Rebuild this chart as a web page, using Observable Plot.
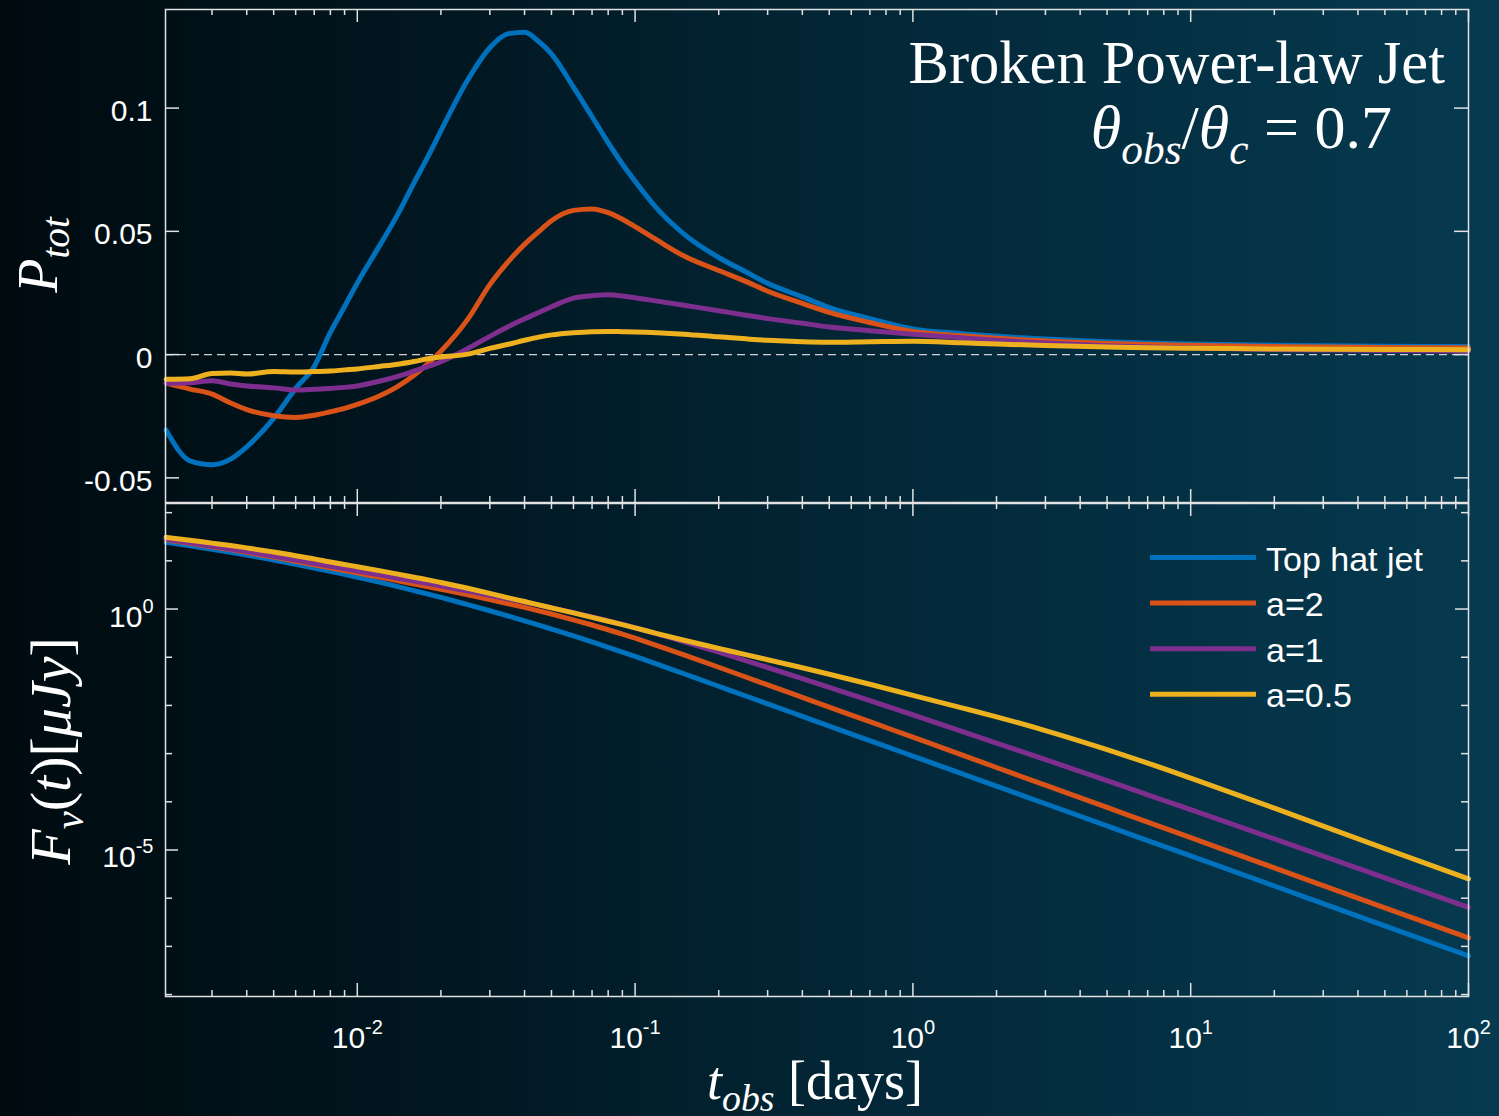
<!DOCTYPE html>
<html><head><meta charset="utf-8">
<script src="https://cdn.jsdelivr.net/npm/d3@7"></script>
<script src="https://cdn.jsdelivr.net/npm/@observablehq/plot@0.6"></script>
<style>
html,body{margin:0;padding:0;}
body{width:1499px;height:1116px;overflow:hidden;background:linear-gradient(90deg,#000b10 0%,#011721 30%,#03293a 62%,#063a50 100%);}
#wrap{position:relative;width:1499px;height:1116px;}
#top,#bot{position:absolute;left:0;}
#top{top:0px}
#bot{top:502px}
svg{overflow:visible}
</style></head><body><div id="wrap"><div id="top"></div><div id="bot"></div></div>
<script>
// ---- data ----
const tDays = [0.00205,0.0025,0.003,0.0035,0.004,0.005,0.006,0.007,0.008,0.009,
  0.01,0.012,0.014,0.016,0.018,0.02,0.025,0.03,0.035,0.04,
  0.045,0.05,0.06,0.07,0.08,0.09,0.1,0.12,0.15,0.2,
  0.25,0.3,0.4,0.5,0.7,1,1.5,2,3,5,
  7,10,20,30,50,100];

const seriesNames = ["Top hat jet","a=2","a=1","a=0.5"];
const seriesColors = ["#0072BD","#D95319","#7E2F8E","#EDB120"];

const pTopHat = [-0.0306,-0.0431,-0.0447,-0.0424,-0.0374,-0.0259,-0.0137,-0.0048,0.0090,0.0195,
  0.0290,0.0440,0.0570,0.0697,0.0805,0.0908,0.1115,0.1245,0.1302,0.1308,
  0.1270,0.1220,0.1085,0.0965,0.0860,0.0773,0.0703,0.0592,0.0489,0.0394,
  0.0336,0.0289,0.0234,0.0191,0.0146,0.0104,0.0085,0.0074,0.0063,0.0052,
  0.0047,0.0043,0.0038,0.0036,0.0034,0.0033];
const pA2 = [-0.0116,-0.0140,-0.0160,-0.0196,-0.0223,-0.0248,-0.0255,-0.0246,-0.0232,-0.0218,
  -0.0202,-0.0168,-0.0129,-0.0084,-0.0036,0.0014,0.0144,0.0284,0.0378,0.0447,
  0.0499,0.0543,0.0585,0.0591,0.0576,0.0549,0.0519,0.0464,0.0400,0.0341,
  0.0297,0.0257,0.0208,0.0171,0.0130,0.0094,0.0076,0.0066,0.0055,0.0045,
  0.0041,0.0038,0.0033,0.0031,0.0029,0.0028];
const pA1 = [-0.0116,-0.0114,-0.0106,-0.0119,-0.0127,-0.0135,-0.0144,-0.0141,-0.0137,-0.0133,
  -0.0127,-0.0108,-0.0088,-0.0067,-0.0048,-0.0029,0.0025,0.0074,0.0114,0.0145,
  0.0171,0.0194,0.0229,0.0239,0.0243,0.0238,0.0231,0.0217,0.0200,0.0178,
  0.0160,0.0146,0.0127,0.0112,0.0097,0.0083,0.0068,0.0058,0.0047,0.0036,
  0.0031,0.0027,0.0021,0.0019,0.0017,0.0015];
const pA05 = [-0.0100,-0.0098,-0.0077,-0.0075,-0.0079,-0.0069,-0.0071,-0.0069,-0.0067,-0.0062,
  -0.0058,-0.0048,-0.0039,-0.0028,-0.0017,-0.0010,0.0002,0.0025,0.0042,0.0058,
  0.0071,0.0080,0.0089,0.0093,0.0094,0.0093,0.0092,0.0089,0.0083,0.0072,
  0.0064,0.0058,0.0052,0.0050,0.0052,0.0054,0.0048,0.0043,0.0037,0.0031,
  0.0028,0.0026,0.0023,0.0022,0.0021,0.0020];

const fTopHat = [24.2,20.5,17.4,15.0,13.2,10.4,8.51,7.13,6.07,5.24,
  4.58,3.61,2.92,2.41,2.04,1.74,1.23,0.923,0.714,0.570,
  0.465,0.385,0.277,0.208,0.161,0.128,0.104,0.0721,0.0454,0.0250,
  0.0157,0.0108,5.94e-3,3.73e-3,1.86e-3,8.89e-4,3.84e-4,2.11e-4,9.12e-5,3.16e-5,
  1.57e-5,7.52e-6,1.79e-6,7.71e-7,2.67e-7,6.35e-8];
const fA2 = [27.3,23.1,19.7,17.1,15.0,12.0,9.82,8.30,7.18,6.31,
  5.62,4.60,3.86,3.32,2.91,2.57,1.97,1.57,1.29,1.08,
  0.918,0.789,0.598,0.466,0.372,0.301,0.248,0.175,0.112,0.0619,
  0.0389,0.0267,0.0147,9.25e-3,4.59e-3,2.19e-3,9.42e-4,5.15e-4,2.21e-4,7.64e-5,
  3.78e-5,1.80e-5,4.26e-6,1.83e-6,6.31e-7,1.50e-7];
const fA1 = [27.9,23.6,20.1,17.6,15.6,12.5,10.4,8.83,7.71,6.84,
  6.15,5.11,4.36,3.79,3.38,3.01,2.36,1.93,1.62,1.40,
  1.21,1.06,0.843,0.685,0.569,0.479,0.407,0.305,0.209,0.127,
  0.0851,0.0612,0.0361,0.0238,0.0126,6.35e-3,2.90e-3,1.66e-3,7.52e-4,2.74e-4,
  1.40e-4,6.85e-5,1.70e-5,7.48e-6,2.64e-6,6.43e-7];
const fA05 = [30.8,26.7,23.3,20.8,18.6,15.3,12.8,11.0,9.46,8.39,
  7.57,6.27,5.30,4.57,4.03,3.56,2.70,2.12,1.71,1.43,
  1.22,1.06,0.832,0.670,0.558,0.474,0.407,0.310,0.225,0.153,
  0.113,0.0889,0.0604,0.0443,0.0275,0.0162,8.91e-3,5.78e-3,3.01e-3,1.21e-3,
  6.38e-4,3.11e-4,7.36e-5,3.13e-5,1.07e-5,2.51e-6];

// ticks
const xMajorTicks = [0.01,0.1,1,10,100];
const xTickLabels = ["10^-2","10^-1","10^0","10^1","10^2"];
const xMinorTicks = [0.003,0.004,0.005,0.006,0.007,0.008,0.009,
  0.02,0.03,0.04,0.05,0.06,0.07,0.08,0.09,
  0.2,0.3,0.4,0.5,0.6,0.7,0.8,0.9,
  2,3,4,5,6,7,8,9,
  20,30,40,50,60,70,80,90];
const pTicks = [-0.05,0,0.05,0.1];
const pTickLabels = ["-0.05","0","0.05","0.1"];
const fMajorTicks = [1e-5,1];
const fTickLabels = ["10^-5","10^0"];
const fMinorTicks = [1e-8,1e-7,1e-6,1e-4,1e-3,1e-2,1e-1,10,100];

const pSeries = [pTopHat,pA2,pA1,pA05];
const fSeries = [fTopHat,fA2,fA1,fA05];

// ---- layout ----
const W = 1499, ML = 165, MR = 31, FW = W - ML - MR, FH = 493;
const AX = "#e2e2e2", AXW = 1.5;
const SANS = "Liberation Sans, Arial, Helvetica, sans-serif";
const SERIF = "Liberation Serif, Times New Roman, DejaVu Serif, serif";
const xDomain = [0.00204, 100];

function xTicks(){
  return [
    Plot.ruleX(xMajorTicks,{stroke:AX,strokeWidth:AXW,insetBottom:FH-13}),
    Plot.ruleX(xMajorTicks,{stroke:AX,strokeWidth:AXW,insetTop:FH-13}),
    Plot.ruleX(xMinorTicks,{stroke:AX,strokeWidth:AXW,insetBottom:FH-6}),
    Plot.ruleX(xMinorTicks,{stroke:AX,strokeWidth:AXW,insetTop:FH-6})
  ];
}
function yTicks(vals,len){
  return [
    Plot.ruleY(vals,{stroke:AX,strokeWidth:AXW,insetRight:FW-len}),
    Plot.ruleY(vals,{stroke:AX,strokeWidth:AXW,insetLeft:FW-len})
  ];
}

const topPlot = Plot.plot({
  width: W, height: 503, marginLeft: ML, marginRight: MR, marginTop: 9, marginBottom: 1,
  style: {background: "transparent", overflow: "visible"},
  x: {type: "log", domain: xDomain, axis: null},
  y: {domain: [-0.06, 0.14], axis: null},
  marks: [
    Plot.ruleY([0], {stroke: "#d0d0d0", strokeWidth: 1.4, strokeDasharray: "8,5"}),
    ...pSeries.map((arr, k) => Plot.line(tDays, {x: d => d, y: (d, i) => arr[i], stroke: seriesColors[k], strokeWidth: 5, curve: "monotone-x"})),
    ...xTicks(),
    ...yTicks(pTicks, 14),
    Plot.frame({stroke: AX, strokeWidth: AXW}),
    Plot.text(pTicks, {y: d => d, text: (d, i) => pTickLabels[i], frameAnchor: "left", dx: -13, dy: 13, lineAnchor: "bottom", textAnchor: "end", fill: "#fff", fontSize: 30, fontFamily: SANS})
  ]
});

const botPlot = Plot.plot({
  width: W, height: 614, marginLeft: ML, marginRight: MR, marginTop: 1, marginBottom: 120,
  style: {background: "transparent", overflow: "visible"},
  x: {type: "log", domain: xDomain, axis: null},
  y: {type: "log", domain: [Math.pow(10, -8.04), Math.pow(10, 2.19)], axis: null},
  marks: [
    ...fSeries.map((arr, k) => Plot.line(tDays, {x: d => d, y: (d, i) => arr[i], stroke: seriesColors[k], strokeWidth: 5, curve: "monotone-x"})),
    ...xTicks(),
    ...yTicks(fMajorTicks, 13),
    ...yTicks(fMinorTicks, 7),
    Plot.frame({stroke: AX, strokeWidth: AXW}),
    Plot.text(fMajorTicks, {y: d => d, text: (d, i) => fTickLabels[i], frameAnchor: "left", dx: -12, dy: 17.5, lineAnchor: "bottom", textAnchor: "end", fill: "#fff", fontSize: 30, fontFamily: SANS}),
    Plot.text(xMajorTicks, {x: d => d, text: (d, i) => xTickLabels[i], frameAnchor: "bottom", dy: 51, lineAnchor: "bottom", textAnchor: "middle", fill: "#fff", fontSize: 30, fontFamily: SANS})
  ]
});

document.getElementById("top").appendChild(topPlot);
document.getElementById("bot").appendChild(botPlot);

// superscripts for power-of-ten labels
botPlot.querySelectorAll("text").forEach(t => {
  const s = t.textContent;
  if (!s.includes("^")) return;
  const [b, e] = s.split("^");
  t.textContent = "";
  const sel = d3.select(t);
  sel.append("tspan").text(b);
  sel.append("tspan").attr("font-size", 20).attr("dy", -14).text(e);
});

// LaTeX-like labels
function mathText(svg, {x, y, anchor = "middle", size, rotate, parts, subShift = 0.22}) {
  const t = d3.select(svg).append("text")
    .attr("transform", `translate(${x},${y})` + (rotate ? ` rotate(${rotate})` : ""))
    .attr("text-anchor", anchor).attr("font-family", SERIF).attr("font-size", size).attr("fill", "#fff");
  let shift = 0;
  for (const p of parts) {
    const sp = t.append("tspan").text(p.s);
    if (p.i) sp.attr("font-style", "italic");
    const target = p.sub ? size * subShift : 0;
    if (target !== shift) { sp.attr("dy", target - shift); shift = target; }
    if (p.sub) sp.attr("font-size", size * 0.7);
  }
}
mathText(topPlot, {x: 1445, y: 83, anchor: "end", size: 60.5, parts: [{s: "Broken Power-law Jet"}]});
mathText(topPlot, {x: 1392, y: 148, anchor: "end", size: 62, subShift: 0.25, parts: [
  {s: "θ", i: 1}, {s: "obs", i: 1, sub: 1}, {s: "/"}, {s: "θ", i: 1}, {s: "c", i: 1, sub: 1}, {s: "\u00a0=\u00a00.7"}]});
mathText(topPlot, {x: 57, y: 255, rotate: -90, size: 56, parts: [{s: "P", i: 1}, {s: "tot", i: 1, sub: 1}]});
mathText(botPlot, {x: 70, y: 249, rotate: -90, size: 58, parts: [
  {s: "F", i: 1}, {s: "ν", i: 1, sub: 1}, {s: "("}, {s: "t", i: 1}, {s: ")"}, {s: "["}, {s: "μJy", i: 1}, {s: "]"}]});
mathText(botPlot, {x: 815, y: 597, size: 54, parts: [{s: "t", i: 1}, {s: "obs", i: 1, sub: 1}, {s: "\u00a0[days]"}]});

// legend
const leg = d3.select(botPlot).append("g").attr("aria-label", "legend");
seriesNames.forEach((name, k) => {
  const yy = 55.5 + k * 45.6;
  leg.append("line").attr("x1", 1150).attr("x2", 1256).attr("y1", yy).attr("y2", yy)
    .attr("stroke", seriesColors[k]).attr("stroke-width", 5);
  leg.append("text").attr("x", 1266).attr("y", yy + 13).attr("fill", "#fff")
    .attr("text-anchor", "start").attr("font-family", SANS).attr("font-size", 34).text(name);
});
</script>
</body></html>
